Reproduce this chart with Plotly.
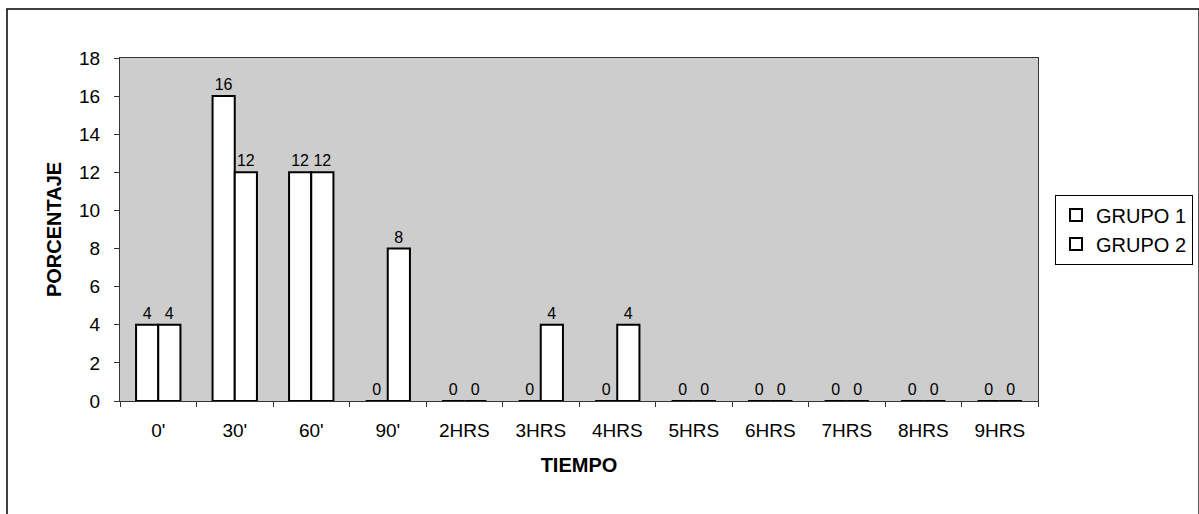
import plotly.graph_objects as go

categories = ["0'", "30'", "60'", "90'", "2HRS", "3HRS", "4HRS", "5HRS", "6HRS", "7HRS", "8HRS", "9HRS"]
grupo1 = [4, 16, 12, 0, 0, 0, 0, 0, 0, 0, 0, 0]
grupo2 = [4, 12, 12, 8, 0, 4, 4, 0, 0, 0, 0, 0]
y_ticks = [0, 2, 4, 6, 8, 10, 12, 14, 16, 18]

FONT = "Liberation Sans, Arial, sans-serif"

fig = go.Figure()
for name, vals in [("GRUPO 1", grupo1), ("GRUPO 2", grupo2)]:
    fig.add_trace(go.Bar(
        x=categories, y=vals, name=name,
        marker=dict(color="white", line=dict(color="black", width=2)),
        text=[str(v) for v in vals], textposition="outside",
        textfont=dict(size=16, color="black", family=FONT),
        cliponaxis=False,
    ))

fig.update_layout(
    width=1199, height=514,
    margin=dict(l=120, r=161, t=58, b=113, autoexpand=False),
    paper_bgcolor="white",
    plot_bgcolor="#cdcdcd",
    barmode="group",
    bargap=0.42, bargroupgap=0,
    font=dict(family=FONT, color="black"),
    showlegend=True,
    legend=dict(
        x=1.0185, y=0.602, xanchor="left", yanchor="top",
        bgcolor="white", bordercolor="black", borderwidth=1,
        font=dict(size=20, family=FONT, color="black"),
        itemwidth=30,
    ),
    xaxis=dict(
        showline=True, linecolor="#333", linewidth=1, mirror=True,
        ticks="outside", ticklen=5, tickcolor="#333", tickson="boundaries",
        tickfont=dict(size=19, family=FONT, color="black"),
        ticklabelstandoff=12,
        title=dict(text="<b>TIEMPO</b>", font=dict(size=20, family=FONT, color="black"), standoff=18),
        showgrid=False,
    ),
    yaxis=dict(
        range=[0, 18], tickvals=y_ticks,
        showline=True, linecolor="#333", linewidth=1, mirror=True,
        ticks="outside", ticklen=5, tickcolor="#333",
        tickfont=dict(size=19, family=FONT, color="black"),
        ticklabelstandoff=10,
        title=dict(text="<b>PORCENTAJE</b>", font=dict(size=20, family=FONT, color="black"), standoff=12),
        showgrid=False, zeroline=False,
    ),
    shapes=[dict(
        type="rect", xref="paper", yref="paper",
        x0=-0.1231, x1=1.1755, y0=-0.35, y1=1.1429,
        line=dict(color="black", width=1.5), fillcolor="rgba(0,0,0,0)", layer="above",
    )],
)

fig.write_html("out.html")
